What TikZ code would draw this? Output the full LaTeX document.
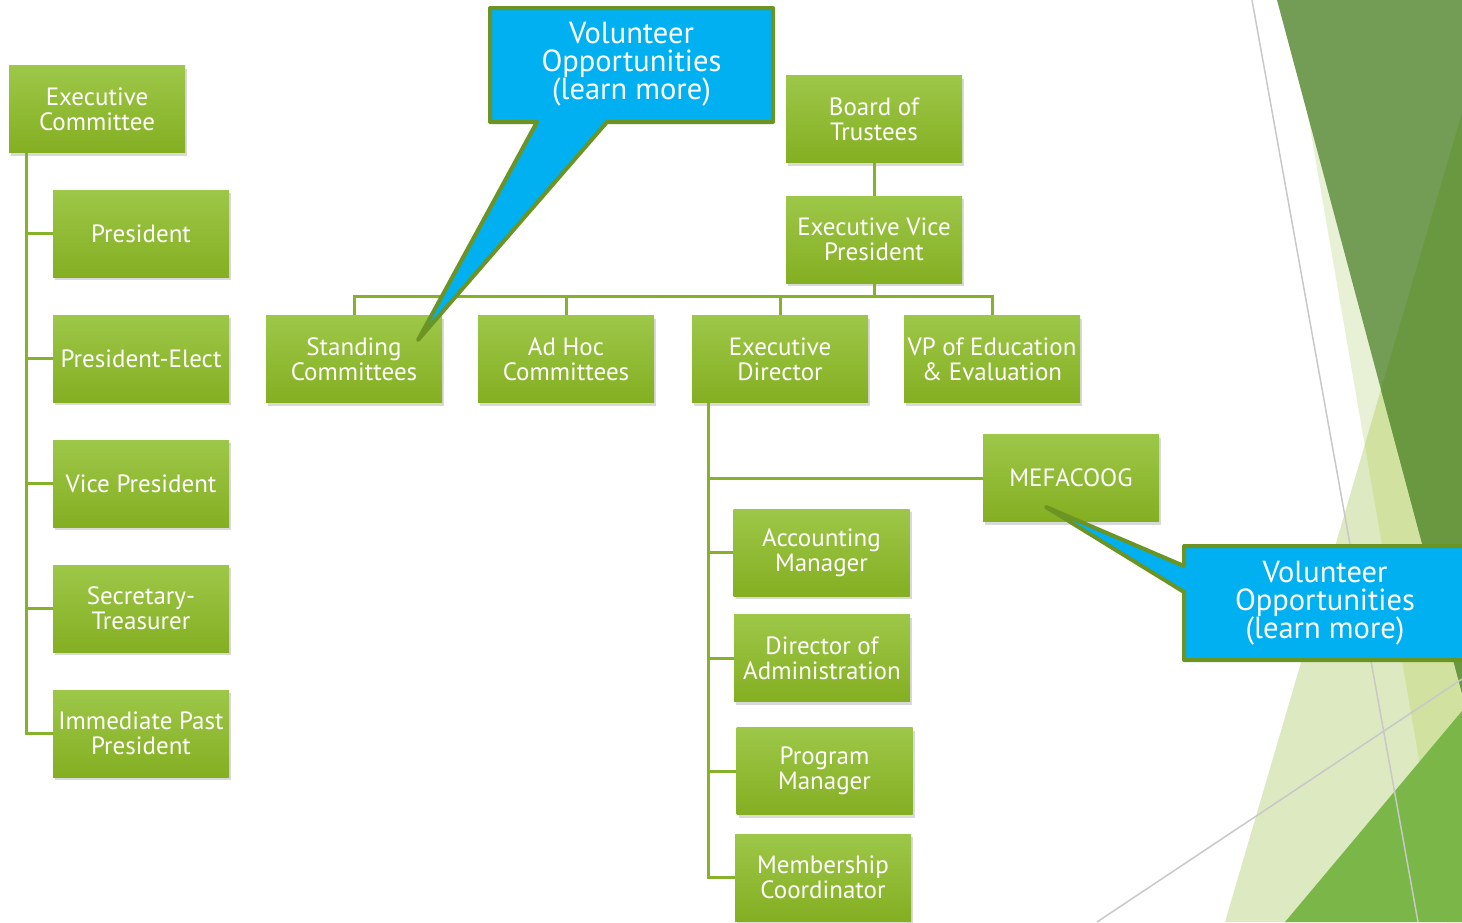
\documentclass[tikz,border=0pt]{standalone}
\usepackage{fontspec}
\setmainfont{PT Sans}
\usetikzlibrary{shadows}
\definecolor{gtop}{HTML}{9DC748}
\definecolor{gbot}{HTML}{84AF22}
\definecolor{connc}{HTML}{86B12A}
\definecolor{cblue}{HTML}{00B0F0}
\definecolor{cline}{HTML}{6B9423}
\definecolor{tonec}{HTML}{DDE9C0}
\definecolor{ttwoc}{HTML}{E8F0D5}
\definecolor{tbothc}{HTML}{D0E1A0}
\definecolor{darkc}{HTML}{739D54}
\definecolor{darkerc}{HTML}{6A9840}
\definecolor{brightc}{HTML}{7AB648}
\definecolor{thinc}{HTML}{C8C8C8}
\tikzset{
  orgbox/.style={rectangle, minimum width=176pt, minimum height=87pt, inner sep=0pt,
    top color=gtop, bottom color=gbot, draw=none, text=white, align=center,
    font=\fontsize{25}{25}\selectfont,
    drop shadow={opacity=0.3, shadow xshift=2pt, shadow yshift=-3pt}},
  link/.style={draw=connc, line width=3pt},
  callout/.style={fill=cblue, draw=cline, line width=4pt, line join=round},
  callouttext/.style={text=white, align=center, inner sep=0pt, font=\fontsize{30.5}{28}\selectfont},
  thinline/.style={draw=thinc, line width=1.5pt}
}
\begin{document}
\begin{tikzpicture}[x=1pt,y=-1pt]
\useasboundingbox (0,0) rectangle (1462,922);
\clip (0,0) rectangle (1462,922);
% background facets
\fill[tonec] (1225,922) -- (1462,113) -- (1462,922) -- cycle;
\fill[ttwoc] (1288,0) -- (1462,0) -- (1462,922) -- (1447,922) -- cycle;
\begin{scope}
  \clip (1225,922) -- (1462,113) -- (1462,922) -- cycle;
  \fill[tbothc] (1288,0) -- (1462,0) -- (1462,922) -- (1447,922) -- cycle;
\end{scope}
\fill[darkc] (1277,0) -- (1462,0) -- (1462,693) -- cycle;
\begin{scope}
  \clip (1225,922) -- (1462,113) -- (1462,922) -- cycle;
  \fill[darkerc] (1277,0) -- (1462,0) -- (1462,693) -- cycle;
\end{scope}
\fill[brightc] (1285,922) -- (1462,711) -- (1462,922) -- cycle;
\draw[thinline] (1252,0) -- (1418,922);
\draw[thinline] (1097,922) -- (1462,679);

% nodes
\node[orgbox] (ec) at (97,109) {Executive\\Committee};
\node[orgbox] (pres) at (141,233.5) {President};
\node[orgbox] (pe) at (141,358.5) {President-Elect};
\node[orgbox] (vp) at (141,483.5) {Vice President};
\node[orgbox] (st) at (141,608.5) {Secretary-\\Treasurer};
\node[orgbox] (ipp) at (141,733.5) {Immediate Past\\President};
\node[orgbox] (bot) at (874,119) {Board of\\Trustees};
\node[orgbox] (evp) at (874,239.5) {Executive Vice\\President};
\node[orgbox] (sc) at (354,359) {Standing\\Committees};
\node[orgbox] (ah) at (566,359) {Ad Hoc\\Committees};
\node[orgbox] (ed) at (780,359) {Executive\\Director};
\node[orgbox] (vpe) at (992,359) {VP of Education\\\& Evaluation};
\node[orgbox] (mef) at (1071,478) {MEFACOOG};
\node[orgbox] (acc) at (821.5,552.5) {Accounting\\Manager};
\node[orgbox] (doa) at (822,658) {Director of\\Administration};
\node[orgbox] (pm) at (824.5,771) {Program\\Manager};
\node[orgbox] (mc) at (823,877.5) {Membership\\Coordinator};

% connectors
\draw[link] ([xshift=18pt]ec.south west) |- (pres.west);
\draw[link] ([xshift=18pt]ec.south west) |- (pe.west);
\draw[link] ([xshift=18pt]ec.south west) |- (vp.west);
\draw[link] ([xshift=18pt]ec.south west) |- (st.west);
\draw[link] ([xshift=18pt]ec.south west) |- (ipp.west);
\draw[link] (bot.south) -- (evp.north);
\draw[link] (evp.south) -- ++(0,13) coordinate (bus);
\draw[link] (bus) -| (sc.north);
\draw[link] (bus) -| (ah.north);
\draw[link] (bus) -| (ed.north);
\draw[link] (bus) -| (vpe.north);
\draw[link] ([xshift=17pt]ed.south west) |- (mef.west);
\draw[link] ([xshift=17pt]ed.south west) |- (acc.west);
\draw[link] ([xshift=17pt]ed.south west) |- (doa.west);
\draw[link] ([xshift=17pt]ed.south west) |- (pm.west);
\draw[link] ([xshift=17pt]ed.south west) |- (mc.west);

% callouts
\draw[callout] (490,8) -- (773,8) -- (773,122) -- (607,122) -- (418,340) -- (537,122) -- (490,122) -- cycle;
\node[callouttext] (vo1) at (631.5,64.5) {Volunteer\\Opportunities\\(learn more)};
\draw[callout] (1184,546) -- (1470,546) -- (1470,660) -- (1184,660) -- (1184,592) -- (1046,507) -- (1184,566) -- cycle;
\node[callouttext] (vo2) at (1325,603.5) {Volunteer\\Opportunities\\(learn more)};
\end{tikzpicture}
\end{document}
